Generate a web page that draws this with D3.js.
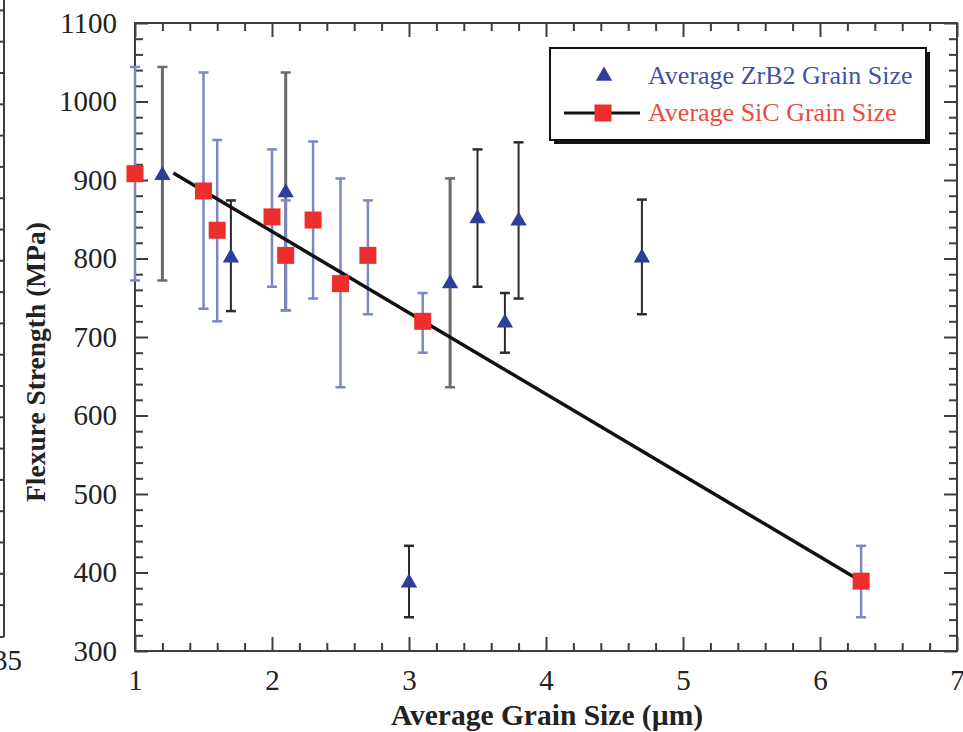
<!DOCTYPE html>
<html>
<head>
<meta charset="utf-8">
<script src="https://cdn.jsdelivr.net/npm/d3@7/dist/d3.min.js"></script>
<style>
  html, body { margin: 0; padding: 0; background: #fff; }
  svg { display: block; }
</style>
</head>
<body>
<svg id="chart" width="963" height="732"></svg>
<script>
// ZrB2 grain size series (triangles) with error-bar limits
const zrb2X    = [1.2, 1.7, 2.1, 3.0, 3.3, 3.5, 3.7, 3.8, 4.7];
const zrb2Y    = [906, 801, 884, 387, 768, 851, 718, 848, 801];
const zrb2Low  = [772, 733, 734, 343, 636, 764, 680, 749, 729];
const zrb2High = [1044, 874, 1037, 434, 902, 939, 756, 948, 875];

// SiC grain size series (squares) with error-bar limits
const sicX    = [1.0, 1.5, 1.6, 2.0, 2.1, 2.3, 2.5, 2.7, 3.1, 6.3];
const sicY    = [908, 886, 836, 853, 804, 849, 768, 804, 720, 389];
const sicLow  = [772, 736, 720, 764, 734, 749, 636, 729, 680, 343];
const sicHigh = [1044, 1037, 951, 939, 874, 949, 902, 874, 756, 434];

// Linear trend through the SiC data
const fitX = [1.28, 6.3];
const fitY = [909, 389];

// Axis ticks
const xMajor = [1, 2, 3, 4, 5, 6, 7];
const yMajor = [300, 400, 500, 600, 700, 800, 900, 1000, 1100];

const legendLabels = ["Average ZrB2 Grain Size", "Average SiC Grain Size"];
const xTitle = "Average Grain Size (\u00b5m)";
const yTitle = "Flexure Strength (MPa)";

// ---- styling ----
const FONT = "'Liberation Serif', 'Times New Roman', serif";
const AXIS = "#3d3d3d";
const BLUE = "#2d3d9c";
const RED = "#ec2f2d";
const BAR_BLUE = "#7d86c6";
// bar tone for each ZrB2 point: wide grey or thin black
const zrb2BarTone = ["grey", "black", "grey", "black", "grey", "black", "black", "black", "black"];

const svg = d3.select("#chart");
const x = d3.scaleLinear().domain([1, 7]).range([135, 957]);
const y = d3.scaleLinear().domain([300, 1100]).range([651, 23]);

const xMinor = d3.range(1, 7.001, 0.2).map(v => +v.toFixed(1)).filter(v => !xMajor.includes(v));
const yMinor = d3.range(300, 1100.1, 20).filter(v => !yMajor.includes(v));

// ---- neighbouring panel edge at the far left ----
const edge = svg.append("g").attr("stroke", AXIS).attr("stroke-width", 2);
edge.append("line").attr("x1", 4).attr("x2", 4).attr("y1", 0).attr("y2", 637);
edge.append("line").attr("x1", 0).attr("x2", 4).attr("y1", 637).attr("y2", 637);
d3.range(10.4, 620, 31.3).forEach(t => {
  edge.append("line").attr("x1", 0).attr("x2", 4).attr("y1", t).attr("y2", t);
});
svg.append("text").attr("x", 22).attr("y", 670).attr("text-anchor", "end")
  .attr("font-family", FONT).attr("font-size", 29).attr("fill", "#222").text("35");

// ---- axes (ticks point inward) ----
function styleAxis(g) {
  g.select(".domain").remove();
  g.selectAll(".tick line").attr("stroke", AXIS).attr("stroke-width", 2);
  g.selectAll("text").attr("font-family", FONT).attr("font-size", 29).attr("fill", "#222");
}
const axes = svg.append("g");
axes.append("g").attr("transform", "translate(0,651)")
  .call(d3.axisBottom(x).tickValues(xMajor).tickSize(-14).tickPadding(18).tickFormat(d3.format("d")))
  .call(styleAxis);
axes.append("g").attr("transform", "translate(0,651)")
  .call(d3.axisBottom(x).tickValues(xMinor).tickSize(-8).tickFormat(""))
  .call(styleAxis);
axes.append("g").attr("transform", "translate(0,23)")
  .call(d3.axisTop(x).tickValues(xMajor).tickSize(-14).tickFormat(""))
  .call(styleAxis);
axes.append("g").attr("transform", "translate(0,23)")
  .call(d3.axisTop(x).tickValues(xMinor).tickSize(-8).tickFormat(""))
  .call(styleAxis);
axes.append("g").attr("transform", "translate(135,0)")
  .call(d3.axisLeft(y).tickValues(yMajor).tickSize(-13).tickPadding(18).tickFormat(d3.format("d")))
  .call(styleAxis);
axes.append("g").attr("transform", "translate(135,0)")
  .call(d3.axisLeft(y).tickValues(yMinor).tickSize(-8).tickFormat(""))
  .call(styleAxis);
axes.append("g").attr("transform", "translate(957,0)")
  .call(d3.axisRight(y).tickValues(yMajor).tickSize(-13).tickFormat(""))
  .call(styleAxis);
axes.append("g").attr("transform", "translate(957,0)")
  .call(d3.axisRight(y).tickValues(yMinor).tickSize(-8).tickFormat(""))
  .call(styleAxis);

// plot frame
axes.append("rect")
  .attr("x", x.range()[0]).attr("y", y.range()[1])
  .attr("width", x.range()[1] - x.range()[0]).attr("height", y.range()[0] - y.range()[1])
  .attr("fill", "none").attr("stroke", AXIS).attr("stroke-width", 2);

// ---- error bars ----
function errorBars(xs, lows, highs, colorOf, widthOf) {
  const g = svg.append("g");
  xs.forEach((xv, i) => {
    const c = colorOf(i), w = widthOf(i);
    g.append("line").attr("x1", x(xv)).attr("x2", x(xv))
      .attr("y1", y(lows[i])).attr("y2", y(highs[i]))
      .attr("stroke", c).attr("stroke-width", w);
    [lows[i], highs[i]].forEach(v => {
      g.append("line").attr("x1", x(xv) - 5).attr("x2", x(xv) + 5)
        .attr("y1", y(v)).attr("y2", y(v))
        .attr("stroke", c).attr("stroke-width", 2.5);
    });
  });
}
errorBars(zrb2X, zrb2Low, zrb2High,
  i => zrb2BarTone[i] === "grey" ? "#6a6a6a" : "#2a2a2a",
  i => zrb2BarTone[i] === "grey" ? 3 : 2);
errorBars(sicX, sicLow, sicHigh, () => BAR_BLUE, () => 2.5);

// ---- trend line ----
svg.append("path")
  .datum(fitX.map((v, i) => [v, fitY[i]]))
  .attr("d", d3.line().x(d => x(d[0])).y(d => y(d[1])))
  .attr("fill", "none").attr("stroke", "#111").attr("stroke-width", 3.5);

// ---- markers ----
const tri = d3.symbol().type(d3.symbolTriangle).size(115);
svg.append("g").selectAll("path").data(zrb2X).join("path")
  .attr("d", tri)
  .attr("transform", (d, i) => `translate(${x(d)},${y(zrb2Y[i])})`)
  .attr("fill", BLUE);

const sq = 17;
svg.append("g").selectAll("rect").data(sicX).join("rect")
  .attr("x", d => x(d) - sq / 2)
  .attr("y", (d, i) => y(sicY[i]) - sq / 2)
  .attr("width", sq).attr("height", sq)
  .attr("fill", RED);

// ---- axis titles ----
svg.append("text").attr("x", 547).attr("y", 725).attr("text-anchor", "middle")
  .attr("font-family", FONT).attr("font-weight", "bold").attr("font-size", 29.5)
  .attr("fill", "#222").text(xTitle);
svg.append("text").attr("transform", "translate(45,362) rotate(-90)")
  .attr("text-anchor", "middle")
  .attr("font-family", FONT).attr("font-weight", "bold").attr("font-size", 27.5)
  .attr("fill", "#222").text(yTitle);

// ---- legend ----
const lg = svg.append("g");
lg.append("rect").attr("x", 554).attr("y", 52).attr("width", 376).attr("height", 92).attr("fill", "#111");
lg.append("rect").attr("x", 550).attr("y", 48).attr("width", 376).attr("height", 92)
  .attr("fill", "#fff").attr("stroke", "#111").attr("stroke-width", 2);
lg.append("path").attr("d", d3.symbol().type(d3.symbolTriangle).size(115))
  .attr("transform", "translate(604,76)").attr("fill", BLUE);
lg.append("line").attr("x1", 564).attr("x2", 640).attr("y1", 113).attr("y2", 113)
  .attr("stroke", "#111").attr("stroke-width", 3);
lg.append("rect").attr("x", 603 - sq / 2).attr("y", 113 - sq / 2).attr("width", sq).attr("height", sq).attr("fill", RED);
lg.append("text").attr("x", 648).attr("y", 84)
  .attr("font-family", FONT).attr("font-size", 26).attr("fill", "#4450a6").text(legendLabels[0]);
lg.append("text").attr("x", 648).attr("y", 121)
  .attr("font-family", FONT).attr("font-size", 26).attr("fill", "#ec4a3e").text(legendLabels[1]);
</script>
</body>
</html>
